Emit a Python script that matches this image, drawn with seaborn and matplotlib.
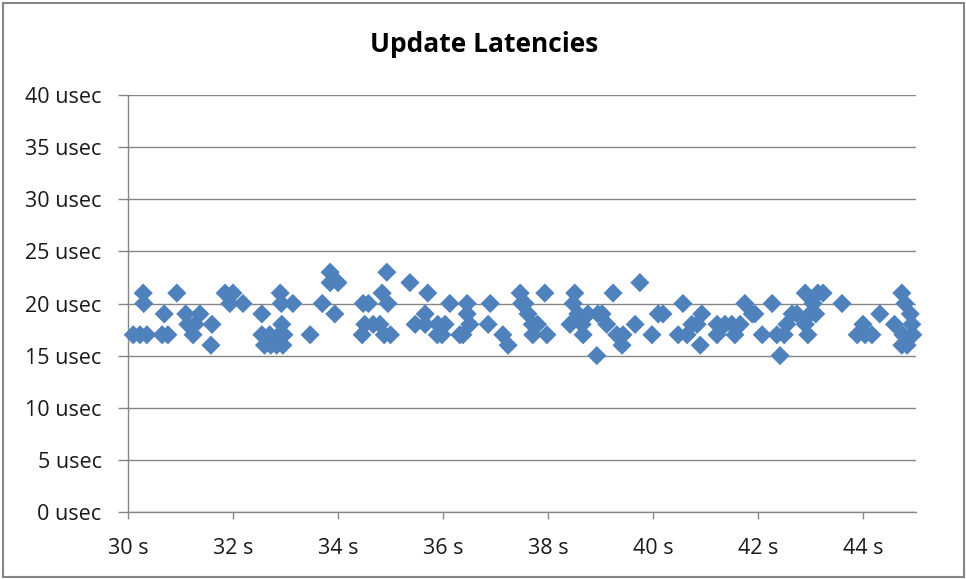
import matplotlib
matplotlib.use("Agg")
import matplotlib.pyplot as plt
from matplotlib.patches import Rectangle
import seaborn as sns
import pandas as pd

title = "Update Latencies"
x_ticks = [30, 32, 34, 36, 38, 40, 42, 44]
x_labels = ["30 s", "32 s", "34 s", "36 s", "38 s", "40 s", "42 s", "44 s"]
y_ticks = [0, 5, 10, 15, 20, 25, 30, 35, 40]
y_labels = ["0 usec", "5 usec", "10 usec", "15 usec", "20 usec", "25 usec", "30 usec", "35 usec", "40 usec"]

time_s = [
    30.10, 30.23, 30.36, 30.29, 30.30, 30.69, 30.65, 30.76, 30.93, 31.10,
    31.14, 31.28, 31.24, 31.37, 31.60, 31.58, 31.85, 32.00, 31.94, 32.19,
    32.55, 32.55, 32.60, 32.72, 32.83, 32.95, 32.70, 32.88, 32.90, 32.92,
    32.93, 32.97, 33.14, 33.47, 33.70, 33.85, 33.85, 33.94, 34.00, 34.48,
    34.51, 34.46, 34.67, 34.84, 34.80, 34.93, 34.88, 34.95, 35.00, 34.58,
    35.37, 35.71, 35.47, 35.66, 35.66, 35.90, 35.98, 35.89, 36.13, 36.04,
    36.32, 36.46, 36.46, 36.51, 36.38, 36.90, 36.86, 37.14, 37.24, 37.47,
    37.50, 37.56, 37.62, 37.70, 37.71, 37.80, 37.94, 37.98, 38.51, 38.48,
    38.57, 38.42, 38.65, 38.67, 38.76, 38.95, 39.03, 39.12, 38.93, 39.24,
    39.31, 39.43, 39.41, 39.66, 39.75, 39.98, 40.10, 40.19, 40.57, 40.48,
    40.65, 40.74, 40.84, 40.93, 40.90, 41.22, 41.22, 41.37, 41.50, 41.56,
    41.66, 41.75, 41.89, 41.94, 42.08, 42.27, 42.36, 42.42, 42.55, 42.65,
    42.50, 42.74, 42.90, 43.14, 43.24, 42.99, 43.10, 42.90, 42.95, 43.05,
    43.60, 44.00, 43.89, 44.04, 44.17, 44.32, 44.60, 44.74, 44.80, 44.90,
    44.93, 44.76, 44.74, 44.95, 44.84,
]
latency_usec = [
    17, 17, 17, 21, 20, 19, 17, 17, 21, 19,
    18, 18, 17, 19, 18, 16, 21, 21, 20, 20,
    19, 17, 16, 16, 16, 16, 17, 17, 21, 20,
    18, 17, 20, 17, 20, 23, 22, 19, 22, 20,
    18, 17, 18, 21, 18, 23, 17, 20, 17, 20,
    22, 21, 18, 19, 18, 18, 17, 17, 20, 18,
    17, 20, 19, 18, 17, 20, 18, 17, 16, 21,
    20, 20, 19, 18, 17, 18, 21, 17, 21, 20,
    19, 18, 18, 17, 19, 19, 19, 18, 15, 21,
    17, 17, 16, 18, 22, 17, 19, 19, 20, 17,
    17, 18, 18, 19, 16, 18, 17, 18, 18, 17,
    18, 20, 19, 19, 17, 20, 17, 15, 18, 19,
    17, 19, 21, 21, 21, 19, 19, 18, 17, 20,
    20, 18, 17, 17, 17, 19, 18, 21, 20, 19,
    18, 17, 16, 17, 16,
]

df = pd.DataFrame({"time": time_s, "latency": latency_usec})

sns.set_theme(style="white")
plt.rcParams["font.family"] = ["Open Sans", "DejaVu Sans"]

W, H = 966, 579
fig = plt.figure(figsize=(W / 100, H / 100), dpi=100)
ax = fig.add_axes([128 / W, 67 / H, (915.5 - 128) / W, (512 - 95) / H])

grid_col = "#868686"
sns.scatterplot(data=df, x="time", y="latency", marker="D", s=95,
                color="#4F81BD", edgecolor="none", linewidth=0, ax=ax,
                legend=False, zorder=3, clip_on=False)

ax.set_xlim(30, 45)
ax.set_ylim(0, 40)
ax.set_xticks(x_ticks)
ax.set_xticklabels(x_labels)
ax.set_yticks(y_ticks)
ax.set_yticklabels(y_labels)
ax.set_xlabel("")
ax.set_ylabel("")
ax.yaxis.grid(True, color=grid_col, linewidth=1.0, zorder=0)
ax.set_axisbelow(True)
for side in ("top", "right"):
    ax.spines[side].set_visible(False)
for side in ("left", "bottom"):
    ax.spines[side].set_color(grid_col)
    ax.spines[side].set_linewidth(1.0)
ax.tick_params(axis="y", direction="out", length=7, width=1.0, color=grid_col,
               pad=12, labelsize=15.5, labelcolor="#1a1a1a", left=True)
ax.tick_params(axis="x", direction="out", length=5, width=1.0, color=grid_col,
               pad=14, labelsize=15.5, labelcolor="#1a1a1a", bottom=True)

fig.text(484 / W, 1 - 45 / H, title, ha="center", va="center",
         fontsize=19, fontweight="bold", color="#000000")

fig.patches.append(Rectangle((2.5 / W, 2.5 / H), (W - 5) / W, (H - 5) / H,
                             transform=fig.transFigure, fill=False,
                             edgecolor=grid_col, linewidth=1.5))

fig.savefig("out.png", dpi=100)
